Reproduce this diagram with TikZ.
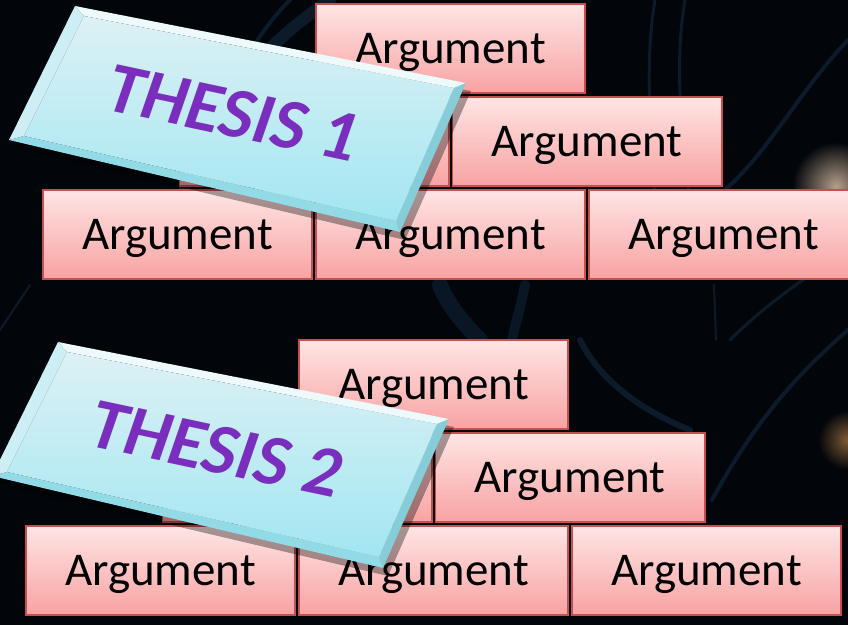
\documentclass[tikz,border=0pt]{standalone}
\usepackage{fontspec}
\setmainfont{Carlito}
\usetikzlibrary{positioning,calc}
\definecolor{bgdark}{HTML}{02050A}
\definecolor{argtop}{HTML}{FFE5E5}
\definecolor{argbot}{HTML}{F8A2A2}
\definecolor{argline}{HTML}{C4504F}
\definecolor{plaqtop}{HTML}{DDF1F5}
\definecolor{plaqbot}{HTML}{A2E6F1}
\definecolor{bevtop}{HTML}{EEF9FB}
\definecolor{bevright}{HTML}{86CDDA}
\definecolor{bevbot}{HTML}{92DAE6}
\definecolor{bevleft}{HTML}{CDEEF4}
\definecolor{thesispurple}{HTML}{7A2EBD}
\definecolor{nerveblue}{HTML}{2A5A8C}
\begin{document}
\begin{tikzpicture}[x=0.5pt, y=-0.5pt,
  argbox/.style={draw=argline, line width=0.8pt, top color=argtop, bottom color=argbot,
    minimum width=134.7pt, minimum height=44.7pt, text depth=0pt,
    font=\fontsize{23.5}{28}\selectfont},
  thesis/.style={text=thesispurple, inner sep=0pt,
    font=\fontsize{36}{40}\selectfont\bfseries\itshape},
  nerve/.style={draw=nerveblue, opacity=0.25, line cap=round}]
% background
\fill[bgdark] (0,0) rectangle (848,625);
\useasboundingbox (0,0) rectangle (848,625);
\clip (0,0) rectangle (848,625);
\draw[nerve, line width=6pt] (330,0) .. controls (270,40) and (200,110) .. (185,190);
\draw[nerve, line width=2pt] (290,0) .. controls (240,50) and (215,120) .. (205,185);
\draw[nerve, line width=1.5pt] (655,0) .. controls (645,60) and (650,120) .. (655,200);
\draw[nerve, line width=1.5pt] (685,0) .. controls (675,60) and (680,120) .. (690,200);
\draw[nerve, line width=2pt] (848,40) .. controls (800,90) and (770,150) .. (725,190);
\draw[nerve, line width=1.5pt] (848,250) .. controls (800,280) and (760,310) .. (730,340);
\draw[nerve, line width=8pt, opacity=0.2] (440,285) .. controls (450,310) and (470,330) .. (480,340);
\draw[nerve, line width=5pt, opacity=0.2] (525,285) .. controls (520,310) and (515,325) .. (512,340);
\draw[nerve, line width=1pt] (714,285) -- (716,340);
\draw[nerve, line width=3pt] (580,340) .. controls (600,380) and (640,410) .. (690,430);
\draw[nerve, line width=2pt] (848,330) .. controls (790,380) and (750,430) .. (712,500);
\draw[nerve, line width=1pt] (0,330) -- (30,285);
\shade[inner color=white!75!orange, outer color=bgdark, opacity=0.7] (836,186) circle (22pt);
\shade[inner color=orange!60!white, outer color=bgdark, opacity=0.5] (848,440) circle (15pt);
% first wall
\node[argbox, anchor=north west] (botl1) at (42,189) {Argument};
\node[argbox, right=1pt of botl1] (botm1) {Argument};
\node[argbox, right=1pt of botm1] (botr1) {Argument};
\coordinate (jl1) at ($(botl1.north east)!0.5!(botm1.north west)$);
\coordinate (jr1) at ($(botm1.north east)!0.5!(botr1.north west)$);
\node[argbox, above=1pt of jl1] (midl1) {};
\node[argbox, above=1pt of jr1] (midr1) {Argument};
\coordinate (jt1) at ($(midl1.north east)!0.5!(midr1.north west)$);
\node[argbox, above=1pt of jt1] (top1) {Argument};
% first plaque
\coordinate (p1nw) at (75,6);
\coordinate (p1ne) at (466,83);
\coordinate (p1se) at (400,232);
\coordinate (p1sw) at (9,140);
\coordinate (q1nw) at (84,16);
\coordinate (q1ne) at (454,88);
\coordinate (q1se) at (396,221);
\coordinate (q1sw) at (24,136);
\fill[black, opacity=0.35] ($(p1nw)+(5,8)$) -- ($(p1ne)+(5,8)$) -- ($(p1se)+(5,8)$) -- ($(p1sw)+(5,8)$) -- cycle;
\fill[bevtop] (p1nw) -- (p1ne) -- (q1ne) -- (q1nw) -- cycle;
\fill[bevright] (p1ne) -- (p1se) -- (q1se) -- (q1ne) -- cycle;
\fill[bevbot] (p1se) -- (p1sw) -- (q1sw) -- (q1se) -- cycle;
\fill[bevleft] (p1sw) -- (p1nw) -- (q1nw) -- (q1sw) -- cycle;
\shade[top color=plaqtop, bottom color=plaqbot] (q1nw) -- (q1ne) -- (q1se) -- (q1sw) -- cycle;
\node[thesis, rotate=-12, anchor=base] (thesis1) at (228,136) {THESIS 1};
% second wall
\begin{scope}[shift={(-17,336)}]
\node[argbox, anchor=north west] (botl2) at (42,189) {Argument};
\node[argbox, right=1pt of botl2] (botm2) {Argument};
\node[argbox, right=1pt of botm2] (botr2) {Argument};
\coordinate (jl2) at ($(botl2.north east)!0.5!(botm2.north west)$);
\coordinate (jr2) at ($(botm2.north east)!0.5!(botr2.north west)$);
\node[argbox, above=1pt of jl2] (midl2) {};
\node[argbox, above=1pt of jr2] (midr2) {Argument};
\coordinate (jt2) at ($(midl2.north east)!0.5!(midr2.north west)$);
\node[argbox, above=1pt of jt2] (top2) {Argument};
% second plaque
\coordinate (p2nw) at (75,6);
\coordinate (p2ne) at (466,83);
\coordinate (p2se) at (400,232);
\coordinate (p2sw) at (9,140);
\coordinate (q2nw) at (84,16);
\coordinate (q2ne) at (454,88);
\coordinate (q2se) at (396,221);
\coordinate (q2sw) at (24,136);
\end{scope}
\fill[black, opacity=0.35] ($(p2nw)+(5,8)$) -- ($(p2ne)+(5,8)$) -- ($(p2se)+(5,8)$) -- ($(p2sw)+(5,8)$) -- cycle;
\fill[bevtop] (p2nw) -- (p2ne) -- (q2ne) -- (q2nw) -- cycle;
\fill[bevright] (p2ne) -- (p2se) -- (q2se) -- (q2ne) -- cycle;
\fill[bevbot] (p2se) -- (p2sw) -- (q2sw) -- (q2se) -- cycle;
\fill[bevleft] (p2sw) -- (p2nw) -- (q2nw) -- (q2sw) -- cycle;
\shade[top color=plaqtop, bottom color=plaqbot] (q2nw) -- (q2ne) -- (q2se) -- (q2sw) -- cycle;
\node[thesis, rotate=-12, anchor=base] (thesis2) at (211,472) {THESIS 2};
\end{tikzpicture}
\end{document}
